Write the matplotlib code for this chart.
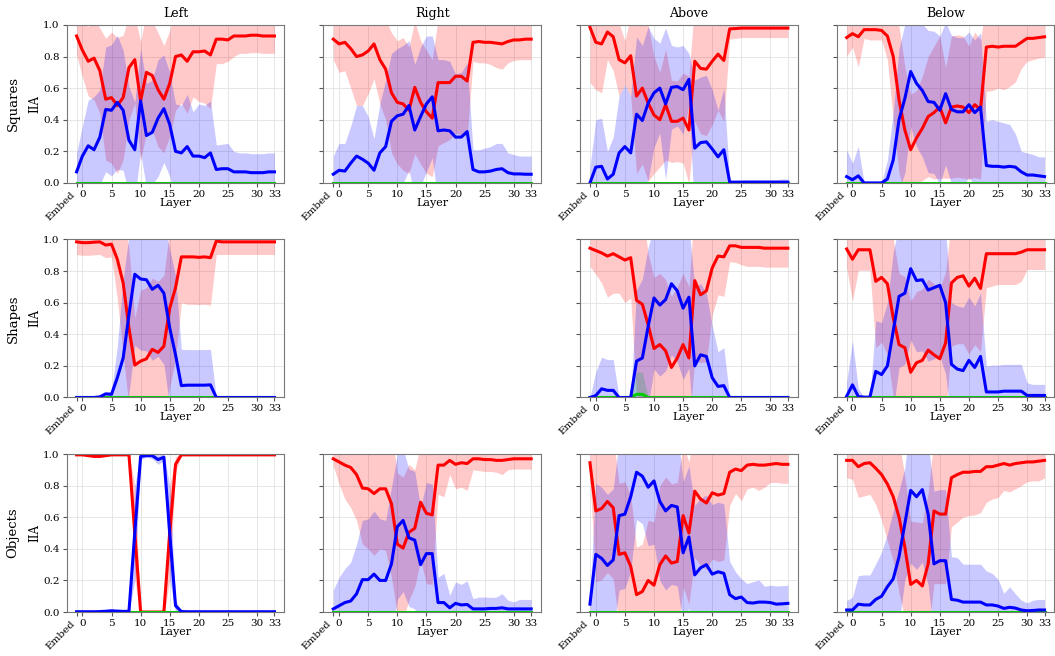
import numpy as np
import matplotlib
matplotlib.use("Agg")
import matplotlib.pyplot as plt

plt.rcParams['font.family'] = ['DejaVu Serif']

# layers: "Embed" is drawn at -1, then 0..33
layers = list(range(-1, 34))
tick_pos = [-1, 0, 5, 10, 15, 20, 25, 30, 33]
tick_labels = ['Embed', '0', '5', '10', '15', '20', '25', '30', '33']
col_titles = ['Left', 'Right', 'Above', 'Below']
row_titles = ['Squares', 'Shapes', 'Objects']

zeros = [0.0] * 35

# ---- Squares ----
sq_left_red = [0.93, 0.84, 0.77, 0.79, 0.71, 0.53, 0.54, 0.49, 0.54, 0.73, 0.78, 0.52, 0.70, 0.68, 0.59, 0.53, 0.63, 0.80,
               0.81, 0.77, 0.83, 0.83, 0.835, 0.81, 0.91, 0.91, 0.905, 0.93, 0.93, 0.93, 0.935, 0.935, 0.93, 0.93, 0.93]
sq_left_red_sd = [0.12, 0.17, 0.22, 0.265, 0.27, 0.385, 0.415, 0.43, 0.395, 0.33, 0.275, 0.375, 0.385, 0.345, 0.36, 0.34,
                  0.335, 0.34, 0.305, 0.33, 0.285, 0.315, 0.33, 0.34, 0.155, 0.155, 0.135, 0.13, 0.11, 0.11, 0.11, 0.11,
                  0.11, 0.11, 0.11]
sq_left_blue = [0.07, 0.17, 0.235, 0.21, 0.29, 0.465, 0.46, 0.51, 0.46, 0.27, 0.21, 0.52, 0.30, 0.32, 0.41, 0.47, 0.37, 0.20,
                0.19, 0.23, 0.17, 0.17, 0.16, 0.19, 0.085, 0.09, 0.09, 0.07, 0.07, 0.07, 0.065, 0.065, 0.065, 0.07, 0.07]
sq_left_blue_sd = [0.12, 0.19, 0.29, 0.335, 0.30, 0.395, 0.415, 0.425, 0.38, 0.34, 0.30, 0.33, 0.33, 0.33, 0.37, 0.34, 0.33,
                   0.30, 0.30, 0.33, 0.28, 0.33, 0.33, 0.33, 0.155, 0.155, 0.16, 0.13, 0.12, 0.12, 0.12, 0.12, 0.12, 0.12,
                   0.12]

sq_right_red = [0.91, 0.88, 0.89, 0.85, 0.80, 0.81, 0.835, 0.88, 0.78, 0.72, 0.57, 0.51, 0.50, 0.46, 0.605, 0.51, 0.45, 0.41,
                0.635, 0.635, 0.635, 0.675, 0.675, 0.645, 0.89, 0.895, 0.89, 0.89, 0.885, 0.88, 0.895, 0.905, 0.905, 0.91,
                0.91]
sq_right_red_sd = [0.13, 0.18, 0.18, 0.25, 0.31, 0.32, 0.27, 0.22, 0.28, 0.32, 0.38, 0.39, 0.42, 0.40, 0.42, 0.39, 0.39,
                   0.37, 0.40, 0.38, 0.36, 0.36, 0.37, 0.35, 0.12, 0.135, 0.13, 0.14, 0.155, 0.16, 0.135, 0.13, 0.125, 0.13,
                   0.13]
sq_right_blue = [0.055, 0.08, 0.075, 0.125, 0.17, 0.15, 0.125, 0.08, 0.19, 0.23, 0.39, 0.425, 0.435, 0.49, 0.335, 0.42, 0.50,
                 0.545, 0.33, 0.335, 0.33, 0.29, 0.29, 0.325, 0.085, 0.07, 0.07, 0.075, 0.085, 0.09, 0.065, 0.057, 0.057,
                 0.055, 0.055]
sq_right_blue_sd = [0.115, 0.17, 0.175, 0.235, 0.32, 0.34, 0.295, 0.20, 0.31, 0.42, 0.43, 0.425, 0.435, 0.41, 0.415, 0.44,
                    0.43, 0.385, 0.45, 0.445, 0.44, 0.40, 0.41, 0.435, 0.125, 0.14, 0.15, 0.155, 0.165, 0.16, 0.125, 0.123,
                    0.113, 0.115, 0.115]

sq_above_red = [0.985, 0.89, 0.88, 0.955, 0.925, 0.78, 0.76, 0.805, 0.55, 0.60, 0.505, 0.43, 0.40, 0.495, 0.39, 0.39, 0.41,
                0.335, 0.77, 0.725, 0.72, 0.77, 0.815, 0.775, 0.975, 0.977, 0.98, 0.98, 0.98, 0.98, 0.98, 0.98, 0.98, 0.98,
                0.98]
sq_above_red_sd = [0.35, 0.30, 0.31, 0.175, 0.215, 0.23, 0.14, 0.255, 0.49, 0.48, 0.495, 0.37, 0.30, 0.35, 0.26, 0.255,
                   0.285, 0.34, 0.38, 0.415, 0.42, 0.40, 0.355, 0.385, 0.065, 0.062, 0.06, 0.06, 0.06, 0.06, 0.06, 0.06,
                   0.06, 0.06, 0.06]
sq_above_blue = [0.0, 0.10, 0.105, 0.025, 0.055, 0.19, 0.23, 0.19, 0.435, 0.395, 0.505, 0.57, 0.60, 0.50, 0.605, 0.61, 0.59,
                 0.655, 0.22, 0.255, 0.26, 0.215, 0.165, 0.21, 0.005, 0.005, 0.005, 0.005, 0.005, 0.005, 0.005, 0.005,
                 0.005, 0.005, 0.005]
sq_above_blue_sd = [0.10, 0.30, 0.305, 0.175, 0.235, 0.36, 0.39, 0.36, 0.49, 0.475, 0.485, 0.345, 0.285, 0.48, 0.265, 0.25,
                    0.28, 0.165, 0.43, 0.415, 0.42, 0.375, 0.295, 0.39, 0.005, 0.01, 0.012, 0.015, 0.015, 0.015, 0.015,
                    0.015, 0.015, 0.02, 0.02]

sq_below_red = [0.92, 0.945, 0.925, 0.97, 0.97, 0.97, 0.965, 0.93, 0.80, 0.525, 0.335, 0.21, 0.285, 0.345, 0.42, 0.445, 0.48,
                0.38, 0.48, 0.487, 0.48, 0.445, 0.495, 0.465, 0.86, 0.865, 0.86, 0.865, 0.865, 0.865, 0.89, 0.915, 0.915,
                0.92, 0.925]
sq_below_red_sd = [0.12, 0.085, 0.19, 0.055, 0.065, 0.065, 0.06, 0.15, 0.40, 0.465, 0.40, 0.35, 0.30, 0.33, 0.38, 0.42,
                   0.45, 0.35, 0.45, 0.45, 0.45, 0.42, 0.46, 0.44, 0.28, 0.28, 0.26, 0.275, 0.255, 0.225, 0.165, 0.145,
                   0.135, 0.13, 0.13]
sq_below_blue = [0.04, 0.02, 0.045, 0.0, 0.0, 0.0, 0.0, 0.025, 0.145, 0.40, 0.535, 0.705, 0.63, 0.585, 0.515, 0.51, 0.46,
                 0.565, 0.465, 0.45, 0.45, 0.495, 0.445, 0.48, 0.11, 0.105, 0.105, 0.10, 0.105, 0.10, 0.07, 0.05, 0.05,
                 0.045, 0.04]
sq_below_blue_sd = [0.17, 0.105, 0.185, 0.0, 0.0, 0.0, 0.0, 0.12, 0.30, 0.45, 0.47, 0.35, 0.40, 0.42, 0.45, 0.45, 0.47,
                    0.45, 0.47, 0.47, 0.47, 0.46, 0.46, 0.47, 0.28, 0.295, 0.285, 0.28, 0.265, 0.21, 0.13, 0.14, 0.13, 0.12,
                    0.125]

# ---- Shapes ----
sh_left_red = [0.985, 0.98, 0.98, 0.983, 0.985, 0.965, 0.97, 0.875, 0.725, 0.44, 0.205, 0.23, 0.245, 0.305, 0.285, 0.325,
               0.565, 0.695, 0.89, 0.89, 0.89, 0.887, 0.89, 0.885, 0.99, 0.985, 0.985, 0.985, 0.985, 0.985, 0.985, 0.985,
               0.985, 0.985, 0.985]
sh_left_red_sd = [0.08, 0.08, 0.08, 0.08, 0.08, 0.08, 0.08, 0.25, 0.45, 0.5, 0.3, 0.45, 0.45, 0.45, 0.45, 0.45, 0.5, 0.45,
                  0.29, 0.3, 0.3, 0.3, 0.3, 0.3, 0.085, 0.08, 0.08, 0.08, 0.08, 0.08, 0.08, 0.08, 0.08, 0.08, 0.08]
sh_left_blue = [0, 0, 0, 0, 0.004, 0.023, 0.02, 0.125, 0.25, 0.525, 0.78, 0.75, 0.745, 0.685, 0.71, 0.66, 0.44, 0.27, 0.075,
                0.078, 0.078, 0.078, 0.078, 0.08, 0, 0, 0, 0, 0, 0, 0, 0, 0, 0, 0]
sh_left_blue_sd = [0, 0, 0, 0, 0.005, 0.01, 0.02, 0.2, 0.5, 0.5, 0.45, 0.45, 0.45, 0.45, 0.45, 0.45, 0.5, 0.5, 0.23, 0.225,
                   0.225, 0.225, 0.225, 0.225, 0, 0, 0, 0, 0, 0, 0, 0, 0, 0, 0]

sh_above_red = [0.945, 0.93, 0.915, 0.895, 0.91, 0.89, 0.87, 0.885, 0.615, 0.59, 0.46, 0.31, 0.335, 0.295, 0.19, 0.25,
                0.335, 0.25, 0.74, 0.65, 0.675, 0.82, 0.895, 0.89, 0.96, 0.96, 0.95, 0.95, 0.95, 0.95, 0.945, 0.945, 0.945,
                0.945, 0.945]
sh_above_red_sd = [0.115, 0.15, 0.19, 0.26, 0.25, 0.23, 0.27, 0.255, 0.6, 0.6, 0.45, 0.45, 0.45, 0.45, 0.45, 0.45, 0.45,
                   0.45, 0.5, 0.43, 0.45, 0.3, 0.245, 0.25, 0.10, 0.105, 0.11, 0.12, 0.12, 0.12, 0.12, 0.12, 0.12, 0.12,
                   0.12]
sh_above_blue = [0, 0.012, 0.055, 0.045, 0.045, 0, 0, 0, 0.23, 0.25, 0.45, 0.63, 0.585, 0.62, 0.72, 0.675, 0.565, 0.635,
                 0.20, 0.27, 0.26, 0.125, 0.07, 0.075, 0, 0, 0, 0, 0, 0, 0, 0, 0, 0, 0]
sh_above_blue_sd = [0, 0.15, 0.2, 0.195, 0.195, 0, 0, 0, 0.45, 0.5, 0.5, 0.45, 0.45, 0.45, 0.45, 0.45, 0.45, 0.45, 0.5,
                    0.45, 0.4, 0.33, 0.22, 0.24, 0, 0, 0, 0, 0, 0, 0, 0, 0, 0, 0]
sh_above_green = [0, 0, 0, 0, 0, 0, 0, 0, 0.02, 0.02, 0, 0, 0, 0, 0, 0, 0, 0, 0, 0, 0, 0, 0, 0, 0, 0, 0, 0, 0, 0, 0, 0, 0,
                  0, 0]
sh_above_green_sd = [0, 0, 0, 0, 0, 0, 0, 0, 0.14, 0.14, 0, 0, 0, 0, 0, 0, 0, 0, 0, 0, 0, 0, 0, 0, 0, 0, 0, 0, 0, 0, 0,
                     0, 0, 0, 0]

sh_below_red = [0.94, 0.875, 0.935, 0.935, 0.935, 0.735, 0.76, 0.72, 0.505, 0.335, 0.315, 0.16, 0.22, 0.235, 0.30, 0.27,
                0.245, 0.345, 0.725, 0.76, 0.77, 0.705, 0.755, 0.69, 0.91, 0.91, 0.91, 0.91, 0.91, 0.91, 0.92, 0.935,
                0.935, 0.935, 0.935]
sh_below_red_sd = [0.12, 0.265, 0.13, 0.13, 0.13, 0.42, 0.41, 0.45, 0.5, 0.45, 0.45, 0.45, 0.45, 0.45, 0.45, 0.45, 0.45,
                   0.45, 0.4, 0.42, 0.43, 0.43, 0.42, 0.4, 0.215, 0.205, 0.195, 0.195, 0.195, 0.195, 0.185, 0.125, 0.125,
                   0.125, 0.125]
sh_below_blue = [0.008, 0.08, 0.006, 0.002, 0.002, 0.165, 0.145, 0.2, 0.42, 0.64, 0.66, 0.815, 0.74, 0.745, 0.68, 0.695,
                 0.71, 0.60, 0.21, 0.18, 0.17, 0.235, 0.19, 0.26, 0.035, 0.035, 0.035, 0.04, 0.04, 0.04, 0.04, 0.013,
                 0.013, 0.013, 0.013]
sh_below_blue_sd = [0.09, 0.28, 0.05, 0, 0, 0.32, 0.33, 0.4, 0.5, 0.45, 0.45, 0.45, 0.45, 0.45, 0.45, 0.45, 0.45, 0.45,
                    0.39, 0.4, 0.4, 0.4, 0.39, 0.4, 0.165, 0.17, 0.17, 0.17, 0.17, 0.17, 0.17, 0.08, 0.07, 0.07, 0.07]

# ---- Objects ----
ob_left_red = [0.995, 0.995, 0.99, 0.985, 0.985, 0.99, 0.995, 0.995, 0.995, 0.995, 0.5, 0, 0, 0, 0, 0, 0.5, 0.935,
               0.995, 0.995, 0.995, 0.995, 0.995, 0.995, 0.995, 0.995, 0.995, 0.995, 0.995, 0.995, 0.995, 0.995, 0.995,
               0.995, 0.995]
ob_left_red_sd = [0.005, 0.005, 0.005, 0.005, 0.005, 0.005, 0.005, 0.005, 0.005, 0.005, 0.3, 0.02, 0, 0, 0, 0.02, 0.3,
                  0.05, 0.005, 0.005, 0.005, 0.005, 0.005, 0.005, 0.005, 0.005, 0.005, 0.005, 0.005, 0.005, 0.005, 0.005,
                  0.005, 0.005, 0.005]
ob_left_blue = [0.002, 0.002, 0.002, 0.002, 0.003, 0.005, 0.008, 0.006, 0.004, 0.005, 0.5, 0.985, 0.99, 0.99, 0.965, 0.98,
                0.5, 0.04, 0.003, 0.002, 0.002, 0.002, 0.002, 0.002, 0.002, 0.002, 0.002, 0.002, 0.002, 0.002, 0.002,
                0.002, 0.002, 0.002, 0.002]
ob_left_blue_sd = [0.002, 0.002, 0.002, 0.002, 0.002, 0.002, 0.002, 0.002, 0.002, 0.005, 0.3, 0.02, 0.01, 0.02, 0.03,
                   0.02, 0.3, 0.04, 0.003, 0.002, 0.002, 0.002, 0.002, 0.002, 0.002, 0.002, 0.002, 0.002, 0.002, 0.002,
                   0.002, 0.002, 0.002, 0.002, 0.002]

ob_right_red = [0.97, 0.95, 0.93, 0.915, 0.87, 0.785, 0.78, 0.75, 0.78, 0.78, 0.685, 0.43, 0.405, 0.505, 0.53, 0.695,
                0.625, 0.615, 0.93, 0.93, 0.96, 0.935, 0.945, 0.94, 0.97, 0.97, 0.965, 0.965, 0.96, 0.96, 0.965, 0.97,
                0.97, 0.97, 0.97]
ob_right_red_sd = [0.045, 0.14, 0.215, 0.255, 0.29, 0.355, 0.38, 0.39, 0.38, 0.39, 0.465, 0.45, 0.45, 0.43, 0.37, 0.365,
                   0.445, 0.44, 0.185, 0.2, 0.09, 0.155, 0.155, 0.17, 0.07, 0.075, 0.075, 0.075, 0.075, 0.09, 0.065,
                   0.065, 0.065, 0.065, 0.065]
ob_right_blue = [0.02, 0.04, 0.06, 0.07, 0.115, 0.205, 0.205, 0.24, 0.20, 0.20, 0.305, 0.54, 0.58, 0.47, 0.455, 0.30, 0.37,
                 0.37, 0.06, 0.06, 0.027, 0.055, 0.045, 0.048, 0.02, 0.02, 0.02, 0.023, 0.023, 0.027, 0.02, 0.02, 0.02,
                 0.02, 0.02]
ob_right_blue_sd = [0.12, 0.18, 0.215, 0.245, 0.315, 0.375, 0.385, 0.4, 0.39, 0.38, 0.485, 0.46, 0.45, 0.435, 0.435, 0.36,
                    0.45, 0.44, 0.16, 0.185, 0.08, 0.135, 0.13, 0.15, 0.065, 0.075, 0.075, 0.07, 0.072, 0.09, 0.055,
                    0.045, 0.06, 0.06, 0.06]

ob_above_red = [0.945, 0.64, 0.655, 0.70, 0.66, 0.365, 0.375, 0.29, 0.11, 0.13, 0.20, 0.17, 0.30, 0.355, 0.31, 0.32, 0.61,
                0.50, 0.765, 0.715, 0.69, 0.755, 0.74, 0.75, 0.885, 0.905, 0.895, 0.93, 0.935, 0.93, 0.93, 0.935, 0.94,
                0.935, 0.935]
ob_above_red_sd = [0.1, 0.45, 0.45, 0.45, 0.45, 0.45, 0.45, 0.45, 0.3, 0.3, 0.38, 0.4, 0.5, 0.5, 0.5, 0.5, 0.45, 0.45,
                   0.42, 0.42, 0.42, 0.42, 0.42, 0.42, 0.21, 0.155, 0.19, 0.15, 0.145, 0.16, 0.14, 0.115, 0.12, 0.12,
                   0.12]
ob_above_blue = [0.05, 0.365, 0.34, 0.295, 0.33, 0.61, 0.62, 0.73, 0.885, 0.86, 0.79, 0.83, 0.70, 0.64, 0.675, 0.665,
                 0.375, 0.475, 0.235, 0.28, 0.30, 0.24, 0.255, 0.245, 0.11, 0.085, 0.095, 0.06, 0.057, 0.063, 0.063, 0.06,
                 0.05, 0.052, 0.055]
ob_above_blue_sd = [0.05, 0.45, 0.45, 0.45, 0.45, 0.47, 0.47, 0.47, 0.3, 0.3, 0.37, 0.4, 0.5, 0.5, 0.5, 0.5, 0.45, 0.45,
                    0.44, 0.44, 0.44, 0.44, 0.44, 0.44, 0.21, 0.17, 0.115, 0.12, 0.135, 0.14, 0.1, 0.11, 0.115, 0.115,
                    0.115]

ob_below_red = [0.96, 0.96, 0.92, 0.94, 0.945, 0.91, 0.87, 0.81, 0.73, 0.60, 0.41, 0.175, 0.20, 0.165, 0.305, 0.64, 0.62,
                0.62, 0.85, 0.87, 0.885, 0.885, 0.89, 0.89, 0.92, 0.92, 0.93, 0.94, 0.93, 0.94, 0.945, 0.95, 0.95, 0.955,
                0.96]
ob_below_red_sd = [0.11, 0.12, 0.195, 0.205, 0.2, 0.23, 0.29, 0.36, 0.405, 0.48, 0.45, 0.4, 0.37, 0.4, 0.45, 0.46, 0.44,
                   0.44, 0.31, 0.30, 0.285, 0.275, 0.275, 0.26, 0.225, 0.205, 0.205, 0.17, 0.17, 0.16, 0.145, 0.125, 0.12,
                   0.125, 0.11]
ob_below_blue = [0.013, 0.013, 0.05, 0.045, 0.045, 0.08, 0.10, 0.16, 0.21, 0.35, 0.56, 0.77, 0.73, 0.775, 0.62, 0.305,
                 0.325, 0.325, 0.08, 0.075, 0.063, 0.063, 0.063, 0.063, 0.045, 0.045, 0.038, 0.023, 0.03, 0.025, 0.013,
                 0.008, 0.01, 0.013, 0.013]
ob_below_blue_sd = [0.06, 0.08, 0.18, 0.19, 0.19, 0.225, 0.28, 0.335, 0.43, 0.42, 0.355, 0.46, 0.46, 0.46, 0.45, 0.46, 0.45,
                    0.45, 0.27, 0.27, 0.24, 0.24, 0.24, 0.24, 0.215, 0.2, 0.17, 0.095, 0.13, 0.09, 0.062, 0.05, 0.065,
                    0.067, 0.067]

# (row, col) -> series; Shapes/Right has no data
panels = {
    (0, 0): (sq_left_red, sq_left_red_sd, sq_left_blue, sq_left_blue_sd, zeros, zeros),
    (0, 1): (sq_right_red, sq_right_red_sd, sq_right_blue, sq_right_blue_sd, zeros, zeros),
    (0, 2): (sq_above_red, sq_above_red_sd, sq_above_blue, sq_above_blue_sd, zeros, zeros),
    (0, 3): (sq_below_red, sq_below_red_sd, sq_below_blue, sq_below_blue_sd, zeros, zeros),
    (1, 0): (sh_left_red, sh_left_red_sd, sh_left_blue, sh_left_blue_sd, zeros, zeros),
    (1, 2): (sh_above_red, sh_above_red_sd, sh_above_blue, sh_above_blue_sd, sh_above_green, sh_above_green_sd),
    (1, 3): (sh_below_red, sh_below_red_sd, sh_below_blue, sh_below_blue_sd, zeros, zeros),
    (2, 0): (ob_left_red, ob_left_red_sd, ob_left_blue, ob_left_blue_sd, zeros, zeros),
    (2, 1): (ob_right_red, ob_right_red_sd, ob_right_blue, ob_right_blue_sd, zeros, zeros),
    (2, 2): (ob_above_red, ob_above_red_sd, ob_above_blue, ob_above_blue_sd, zeros, zeros),
    (2, 3): (ob_below_red, ob_below_red_sd, ob_below_blue, ob_below_blue_sd, zeros, zeros),
}

RED, BLUE, GREEN = 'red', 'blue', '#00cc00'

fig, axes = plt.subplots(3, 4, figsize=(10.55, 6.56), dpi=100, sharey=True)
fig.subplots_adjust(left=0.0632, right=0.9995, top=0.962, bottom=0.067, wspace=0.179, hspace=0.358)

x = np.array(layers)
for r in range(3):
    for c in range(4):
        ax = axes[r, c]
        if r == 0:
            ax.set_title(col_titles[c], fontsize=9)
        if (r, c) not in panels:
            ax.axis('off')
            continue
        red, red_sd, blue, blue_sd, green, green_sd = [np.array(v, dtype=float) for v in panels[(r, c)]]

        ax.fill_between(x, red - red_sd, red + red_sd, color=RED, alpha=0.21, linewidth=0)
        ax.fill_between(x, green - green_sd, green + green_sd, color=GREEN, alpha=0.21, linewidth=0)
        ax.fill_between(x, blue - blue_sd, blue + blue_sd, color=BLUE, alpha=0.21, linewidth=0)
        ax.plot(x, red, color=RED, linewidth=2.2)
        ax.plot(x, green, color=GREEN, linewidth=2.2)
        ax.plot(x, blue, color=BLUE, linewidth=2.2)

        ax.set_ylim(0, 1)
        ax.set_yticks([0, 0.2, 0.4, 0.6, 0.8, 1.0])
        ax.set_xticks(tick_pos)
        ax.set_xticklabels(tick_labels)
        first = ax.get_xticklabels()[0]
        first.set_rotation(45)
        first.set_ha('right')
        ax.tick_params(labelsize=7.5, length=3, color='#555555', pad=2)
        ax.grid(True, color='#e2e2e2', linewidth=0.6)
        ax.set_axisbelow(True)
        for sp in ax.spines.values():
            sp.set_color('#777777')
        # "Layer" sits just under the numeric ticks, beside the slanted "Embed"
        ax.set_xlabel('Layer', fontsize=8)
        ax.xaxis.set_label_coords(0.5, -0.095)
        if c == 0:
            ax.set_ylabel('IIA', fontsize=8.5)
            ax.yaxis.set_label_coords(-0.115, 0.5)
            ax.yaxis.set_tick_params(labelleft=True)

row_y = [0.8415, 0.5137, 0.188]
for name, yy in zip(row_titles, row_y):
    fig.text(0.0125, yy, name, rotation=90, ha='center', va='center', fontsize=9.5)

fig.savefig('out.png', dpi=100)
